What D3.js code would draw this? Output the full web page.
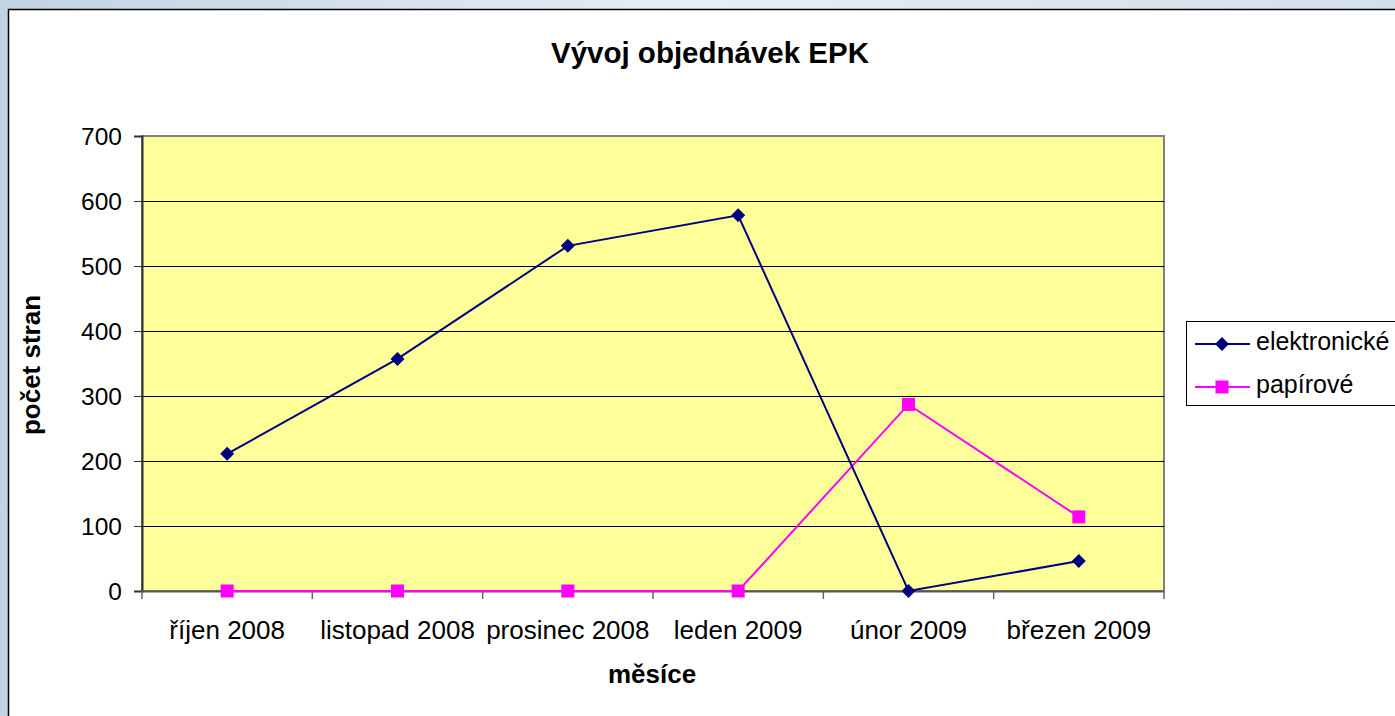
<!DOCTYPE html>
<html>
<head>
<meta charset="utf-8">
<script src="https://cdn.jsdelivr.net/npm/d3@7"></script>
<style>
  body { margin: 0; padding: 0; overflow: hidden; }
  svg { display: block; font-family: Arial, "Liberation Sans", sans-serif; }
</style>
</head>
<body>
<svg id="chart" width="1395" height="716"></svg>
<script>
var months = ["říjen 2008", "listopad 2008", "prosinec 2008", "leden 2009", "únor 2009", "březen 2009"];
var elektronicke = [211, 357, 531, 578, 0, 46];
var papirove = [0, 0, 0, 0, 287, 114];
var yTicks = [0, 100, 200, 300, 400, 500, 600, 700];

var svg = d3.select("#chart");
var font = "Arial, 'Liberation Sans', sans-serif";

// window background + chart area
var bg = svg.append("defs").append("linearGradient").attr("id", "bg").attr("x1", 0).attr("x2", 1);
bg.append("stop").attr("offset", "0%").attr("stop-color", "#c3d3e1");
bg.append("stop").attr("offset", "50%").attr("stop-color", "#e6edf5");
bg.append("stop").attr("offset", "100%").attr("stop-color", "#d3dfe9");
svg.append("rect").attr("width", 1395).attr("height", 716).attr("fill", "url(#bg)");
svg.append("rect").attr("x", 8.5).attr("y", 9.5).attr("width", 1400).attr("height", 720)
    .attr("fill", "#fff").attr("stroke", "#000").attr("stroke-width", 1.5);

var pLeft = 142, pRight = 1164, pTop = 136, pBottom = 591;

var x = d3.scaleBand().domain(months).range([pLeft, pRight]);
var y = d3.scaleLinear().domain([0, 700]).range([pBottom, pTop]);

// plot area
svg.append("rect").attr("x", pLeft).attr("y", pTop).attr("width", pRight - pLeft).attr("height", pBottom - pTop)
    .attr("fill", "#ffff99").attr("stroke", "#808080").attr("stroke-width", 2);

// gridlines
svg.append("g").selectAll("line").data(yTicks.slice(1, -1)).enter().append("line")
    .attr("x1", pLeft).attr("x2", pRight)
    .attr("y1", function(d) { return Math.round(y(d)) + 0.5; })
    .attr("y2", function(d) { return Math.round(y(d)) + 0.5; })
    .attr("stroke", "#000").attr("stroke-width", 1);

// y axis
var yAxis = svg.append("g").attr("transform", "translate(" + pLeft + ",0)")
    .call(d3.axisLeft(y).tickValues(yTicks).tickSize(8).tickPadding(12));
yAxis.select(".domain").attr("stroke", "#333").attr("stroke-width", 2);
yAxis.selectAll(".tick line").attr("stroke", "#333");
yAxis.selectAll("text").attr("font-size", 24.5).attr("fill", "#000").attr("font-family", font)
    .attr("dy", "0.36em");

// x axis
var xAxis = svg.append("g").attr("transform", "translate(0," + pBottom + ")")
    .call(d3.axisBottom(x).tickSize(0).tickPadding(48));
xAxis.select(".domain").attr("stroke", "#555").attr("stroke-width", 2);
xAxis.selectAll("text").attr("font-size", 26).attr("fill", "#000").attr("font-family", font)
    .attr("dy", 0);
var bounds = months.map(function(m) { return x(m); }).concat([pRight]);
svg.append("g").selectAll("line").data(bounds).enter().append("line")
    .attr("x1", function(d) { return d; }).attr("x2", function(d) { return d; })
    .attr("y1", pBottom).attr("y2", pBottom + 8)
    .attr("stroke", "#666").attr("stroke-width", 1.5);

// series
var line = d3.line()
    .x(function(d, i) { return x(months[i]) + x.bandwidth() / 2; })
    .y(function(d) { return y(d); });

svg.append("path").datum(papirove).attr("d", line)
    .attr("fill", "none").attr("stroke", "#ff00ff").attr("stroke-width", 2);
svg.append("path").datum(elektronicke).attr("d", line)
    .attr("fill", "none").attr("stroke", "#000080").attr("stroke-width", 2);

svg.append("g").selectAll("rect").data(papirove).enter().append("rect")
    .attr("x", function(d, i) { return x(months[i]) + x.bandwidth() / 2 - 6.5; })
    .attr("y", function(d) { return y(d) - 6.5; })
    .attr("width", 13).attr("height", 13).attr("fill", "#ff00ff");

var diamond = d3.symbol().type(d3.symbolDiamond2).size(125);
svg.append("g").selectAll("path").data(elektronicke).enter().append("path")
    .attr("transform", function(d, i) { return "translate(" + (x(months[i]) + x.bandwidth() / 2) + "," + y(d) + ")"; })
    .attr("d", diamond).attr("fill", "#000080");

// titles
svg.append("text").attr("x", 710).attr("y", 63).attr("text-anchor", "middle")
    .attr("font-size", 29.5).attr("font-weight", "bold").text("Vývoj objednávek EPK");
svg.append("text").attr("x", 652).attr("y", 683).attr("text-anchor", "middle")
    .attr("font-size", 26).attr("font-weight", "bold").text("měsíce");
svg.append("text").attr("transform", "translate(40,365) rotate(-90)").attr("text-anchor", "middle")
    .attr("font-size", 26).attr("font-weight", "bold").text("počet stran");

// legend
var lg = svg.append("g");
lg.append("rect").attr("x", 1186.5).attr("y", 321.5).attr("width", 240).attr("height", 84)
    .attr("fill", "#fff").attr("stroke", "#000").attr("stroke-width", 1);
var legendItems = [
    { name: "elektronické", color: "#000080", shape: "diamond" },
    { name: "papírové", color: "#ff00ff", shape: "square" }
];
legendItems.forEach(function(it, i) {
    var cy = 344 + i * 43;
    lg.append("line").attr("x1", 1195).attr("x2", 1250).attr("y1", cy).attr("y2", cy)
        .attr("stroke", it.color).attr("stroke-width", 2);
    if (it.shape === "diamond") {
        lg.append("path").attr("transform", "translate(1222," + cy + ")").attr("d", diamond).attr("fill", it.color);
    } else {
        lg.append("rect").attr("x", 1215.5).attr("y", cy - 6.5).attr("width", 13).attr("height", 13).attr("fill", it.color);
    }
    lg.append("text").attr("x", 1256).attr("y", cy + 6).attr("font-size", 25).text(it.name);
});
</script>
</body>
</html>
